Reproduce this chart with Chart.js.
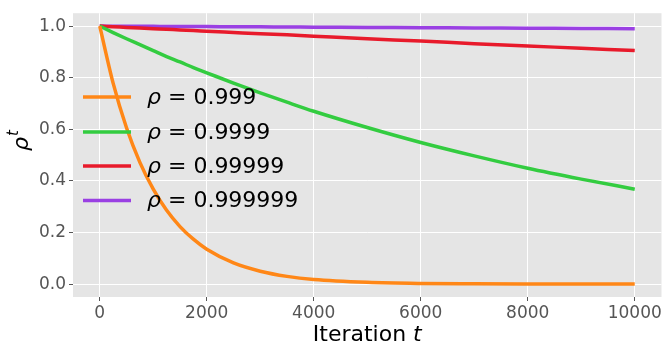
<!DOCTYPE html>
<html>

<head>
    <meta charset="UTF-8">
    <title>rho^t decay</title>
    <script src="https://cdn.jsdelivr.net/npm/chart.js"></script>
    <style>
        html, body { margin: 0; padding: 0; background: #fff; }
        #wrap { width: 664px; height: 343px; }
    </style>
</head>

<body>
    <div id="wrap"><canvas id="decayChart" width="664" height="343"></canvas></div>

    <script>
        // values
        const iterations = [0, 250, 500, 750, 1000, 1250, 1500, 1750, 2000, 2500, 3000, 3500, 4000, 5000, 6000, 7000, 8000, 9000, 10000];
        const rho999 = [1.0, 0.779, 0.606, 0.472, 0.368, 0.286, 0.223, 0.174, 0.135, 0.082, 0.050, 0.030, 0.018, 0.007, 0.0025, 0.001, 0.0003, 0.0001, 0.0];
        const rho9999 = [1.0, 0.975, 0.951, 0.928, 0.905, 0.882, 0.861, 0.839, 0.819, 0.779, 0.741, 0.705, 0.670, 0.607, 0.549, 0.497, 0.449, 0.407, 0.368];
        const rho99999 = [1.0, 0.9975, 0.995, 0.9925, 0.990, 0.9876, 0.985, 0.9827, 0.980, 0.975, 0.970, 0.966, 0.961, 0.951, 0.942, 0.932, 0.923, 0.914, 0.905];
        const rho999999 = [1.0, 0.99975, 0.9995, 0.99925, 0.999, 0.99875, 0.9985, 0.99825, 0.998, 0.9975, 0.997, 0.9965, 0.996, 0.995, 0.994, 0.993, 0.992, 0.991, 0.990];

        const seriesLabels = ["0.999", "0.9999", "0.99999", "0.999999"];
        const seriesColors = ["#ff8717", "#33cc40", "#e81a2b", "#9a40e3"];
        const xTicks = [0, 2000, 4000, 6000, 8000, 10000];
        const yTicks = [0.0, 0.2, 0.4, 0.6, 0.8, 1.0];

        const toPoints = vals => vals.map((v, i) => ({ x: iterations[i], y: v }));

        const datasets = [rho999, rho9999, rho99999, rho999999].map((vals, i) => ({
            label: "ρ = " + seriesLabels[i],
            data: toPoints(vals),
            borderColor: seriesColors[i],
            backgroundColor: seriesColors[i],
            borderWidth: 3.5,
            pointRadius: 0,
            cubicInterpolationMode: "monotone",
            fill: false,
        }));

        // gray panel behind the plot
        const panelBg = {
            id: "panelBg",
            beforeDraw(chart) {
                const { ctx, chartArea: a } = chart;
                ctx.save();
                ctx.fillStyle = "#e5e5e5";
                ctx.fillRect(a.left, a.top, a.right - a.left, a.bottom - a.top);
                ctx.restore();
            }
        };

        // legend inside the panel + axis titles with italic math
        const extras = {
            id: "extras",
            afterDraw(chart) {
                const ctx = chart.ctx;
                ctx.save();
                const rows = [97, 132, 166, 200.5];
                chart.data.datasets.forEach((ds, i) => {
                    const y = rows[i];
                    ctx.strokeStyle = ds.borderColor;
                    ctx.lineWidth = 3.5;
                    ctx.beginPath();
                    ctx.moveTo(83, y);
                    ctx.lineTo(131, y);
                    ctx.stroke();

                    ctx.fillStyle = "#000";
                    ctx.textBaseline = "middle";
                    ctx.textAlign = "left";
                    ctx.font = "italic 22px 'DejaVu Sans'";
                    ctx.fillText("ρ", 147, y + 1);
                    const w = ctx.measureText("ρ").width;
                    ctx.font = "22px 'DejaVu Sans'";
                    ctx.fillText(" = " + seriesLabels[i], 147 + w, y + 1);
                });

                // x title
                ctx.fillStyle = "#000";
                ctx.textBaseline = "alphabetic";
                ctx.font = "22px 'DejaVu Sans'";
                const part = "Iteration ";
                const pw = ctx.measureText(part).width;
                ctx.font = "italic 22px 'DejaVu Sans'";
                const tw = ctx.measureText("t").width;
                let x0 = (chart.chartArea.left + chart.chartArea.right) / 2 - (pw + tw) / 2;
                ctx.font = "22px 'DejaVu Sans'";
                ctx.fillText(part, x0, 341);
                ctx.font = "italic 22px 'DejaVu Sans'";
                ctx.fillText("t", x0 + pw, 341);

                // y title
                ctx.translate(28, 151);
                ctx.rotate(-Math.PI / 2);
                ctx.font = "italic 22px 'DejaVu Sans'";
                ctx.fillText("ρ", 0, 0);
                const rw = ctx.measureText("ρ").width;
                ctx.font = "italic 15px 'DejaVu Sans'";
                ctx.fillText("t", rw + 1, -10);
                ctx.restore();
            }
        };

        new Chart(document.getElementById("decayChart").getContext("2d"), {
            type: "line",
            data: { datasets },
            plugins: [panelBg, extras],
            options: {
                responsive: false,
                animation: false,
                layout: { padding: { top: 5, right: 2.5, left: 0, bottom: 0 } },
                plugins: {
                    legend: { display: false },
                    tooltip: { enabled: false }
                },
                scales: {
                    x: {
                        type: "linear",
                        min: -500,
                        max: 10500,
                        afterFit: s => { s.height = 46; },
                        afterBuildTicks: s => { s.ticks = xTicks.map(v => ({ value: v })); },
                        border: { display: false },
                        grid: { color: "#ffffff", lineWidth: 1, tickColor: "#555555", tickLength: 4 },
                        ticks: {
                            color: "#555555",
                            font: { family: "DejaVu Sans", size: 17 },
                            padding: 2,
                            maxRotation: 0,
                            callback: v => String(v)
                        }
                    },
                    y: {
                        min: -0.05,
                        max: 1.05,
                        afterFit: s => { s.width = 73; },
                        afterBuildTicks: s => { s.ticks = yTicks.map(v => ({ value: v })); },
                        border: { display: false },
                        grid: { color: "#ffffff", lineWidth: 1, tickColor: "#555555", tickLength: 4 },
                        ticks: {
                            color: "#555555",
                            font: { family: "DejaVu Sans", size: 17 },
                            padding: 3,
                            callback: v => v.toFixed(1)
                        }
                    }
                }
            }
        });
    </script>
</body>

</html>
